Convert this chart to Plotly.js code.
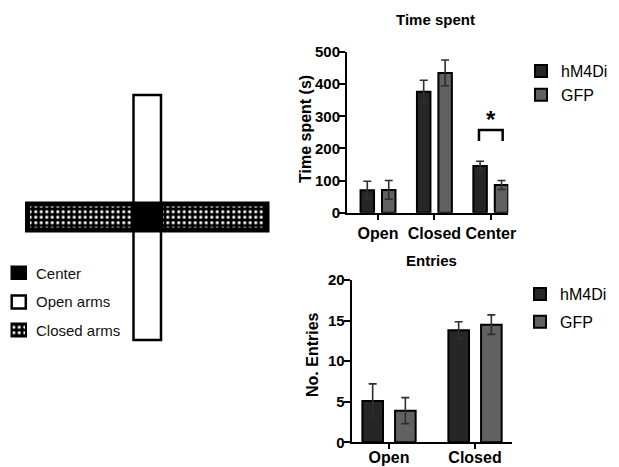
<!DOCTYPE html>
<html>
<head>
<meta charset="utf-8">
<script src="https://cdn.plot.ly/plotly-3.0.1.min.js"></script>
<style>html,body{margin:0;padding:0;background:#fff;}#chart{width:619px;height:467px;}</style>
</head>
<body>
<div id="chart"></div>
<script>
// ---- Data ----
const seriesNames = ['hM4Di', 'GFP'];
const timeCategories = ['Open', 'Closed', 'Center'];
const timeHM4Di = [70, 376, 145];
const timeHM4DiErr = [28, 36, 15];
const timeGFP = [71, 435, 86];
const timeGFPErr = [29, 40, 14];

const entryCategories = ['Open', 'Closed'];
const entriesHM4Di = [5.1, 13.8];
const entriesHM4DiErr = [2.1, 1.05];
const entriesGFP = [3.9, 14.5];
const entriesGFPErr = [1.6, 1.2];

const sigCategoryIndex = 2;      // Center
const sigLabel = '*';
const mazeLegendLabels = ['Center', 'Open arms', 'Closed arms'];
const chartTitles = ['Time spent', 'Entries'];
const yTitles = ['Time spent (s)', 'No. Entries'];

// ---- Styles ----
const FONT = 'Liberation Sans, Arial, sans-serif';
const colHM4Di = '#262626';
const colGFP = '#616161';
const errStyle = (arr) => ({type: 'data', array: arr, visible: true, color: '#2e2e2e', thickness: 1.6, width: 4});

function bar(x, y, err, name, color, xa, ya, legend) {
  return {
    type: 'bar', x: x, y: y, name: name, xaxis: xa, yaxis: ya,
    marker: {color: color, line: {color: '#000', width: 2}},
    error_y: errStyle(err), legend: legend, legendgroup: legend + name,
    hoverinfo: 'skip'
  };
}

const traces = [
  bar(timeCategories, timeHM4Di, timeHM4DiErr, seriesNames[0], colHM4Di, 'x', 'y', 'legend'),
  bar(timeCategories, timeGFP, timeGFPErr, seriesNames[1], colGFP, 'x', 'y', 'legend'),
  bar(entryCategories, entriesHM4Di, entriesHM4DiErr, seriesNames[0], colHM4Di, 'x2', 'y2', 'legend2'),
  bar(entryCategories, entriesGFP, entriesGFPErr, seriesNames[1], colGFP, 'x2', 'y2', 'legend2')
];

// ---- Maze diagram (decoration, pixel space on hidden axes x3/y3) ----
const checkerPattern = {shape: '.', bgcolor: '#000', fgcolor: '#fff', size: 5.5, solidity: 0.26};
traces.push({
  type: 'scatter', xaxis: 'x3', yaxis: 'y3', mode: 'none', fill: 'toself',
  x: [30, 131.5, 131.5, 30, 30, null, 163, 264.5, 264.5, 163, 163, null, 12.5, 25, 25, 12.5, 12.5],
  y: [206.5, 206.5, 227.5, 227.5, 206.5, null, 206.5, 206.5, 227.5, 227.5, 206.5, null, 324.5, 324.5, 335.5, 335.5, 324.5],
  fillcolor: '#000', fillpattern: checkerPattern, showlegend: false, hoverinfo: 'skip'
});

const pxShape = (o) => Object.assign({xref: 'x3', yref: 'y3', layer: 'below'}, o);
const shapes = [
  pxShape({type: 'rect', x0: 133.5, x1: 161, y0: 95, y1: 340, fillcolor: '#fff', line: {color: '#000', width: 2.5}}),
  pxShape({type: 'rect', x0: 25, x1: 269.5, y0: 201.5, y1: 232.5, fillcolor: '#000', line: {width: 0}}),
  pxShape({type: 'rect', x0: 10.5, x1: 27, y0: 265.5, y1: 280, fillcolor: '#000', line: {width: 0}}),
  pxShape({type: 'rect', x0: 11.7, x1: 25.8, y0: 295.5, y1: 308.5, fillcolor: '#fff', line: {color: '#000', width: 2.5}}),
  pxShape({type: 'rect', x0: 10.5, x1: 27, y0: 322.5, y1: 337.5, fillcolor: '#000', line: {width: 0}}),
  // significance bracket
  {type: 'path', xref: 'x', yref: 'y', layer: 'above',
   path: `M ${sigCategoryIndex - 0.21} 223 L ${sigCategoryIndex - 0.21} 257 L ${sigCategoryIndex + 0.21} 257 L ${sigCategoryIndex + 0.21} 223`,
   line: {color: '#000', width: 2.5}}
];

const boldFont = (s) => ({family: FONT, size: s, weight: 700, color: '#000'});
const annotations = [
  {text: chartTitles[0], xref: 'paper', yref: 'paper', x: 435 / 619, y: 1 - 20 / 467, showarrow: false,
   xanchor: 'center', yanchor: 'middle', font: boldFont(15)},
  {text: chartTitles[1], xref: 'paper', yref: 'paper', x: 431.7 / 619, y: 1 - 260 / 467, showarrow: false,
   xanchor: 'center', yanchor: 'middle', font: boldFont(15)},
  {text: yTitles[0], xref: 'paper', yref: 'paper', x: 305.5 / 619, y: 1 - 129.5 / 467, showarrow: false,
   textangle: -90, xanchor: 'center', yanchor: 'middle', font: boldFont(16)},
  {text: yTitles[1], xref: 'paper', yref: 'paper', x: 312 / 619, y: 1 - 355 / 467, showarrow: false,
   textangle: -90, xanchor: 'center', yanchor: 'middle', font: boldFont(16)},
  {text: sigLabel, xref: 'x', yref: 'y', x: timeCategories[sigCategoryIndex], y: 290, showarrow: false,
   xanchor: 'center', yanchor: 'middle', font: boldFont(24)}
];
const mazeLegendY = [273, 301.5, 330];
mazeLegendLabels.forEach((t, i) => annotations.push({
  text: t, xref: 'x3', yref: 'y3', x: 34, y: mazeLegendY[i], showarrow: false,
  xanchor: 'left', yanchor: 'middle', font: {family: FONT, size: 15, color: '#111'}
}));

const xBase = {type: 'category', showline: true, linewidth: 2, linecolor: '#000', ticks: 'outside',
  ticklen: 5, tickwidth: 2, tickcolor: '#000', tickfont: boldFont(16), showgrid: false, zeroline: false, fixedrange: true};
const yBase = {showline: true, linewidth: 2, linecolor: '#000', ticks: 'outside', ticklen: 6, tickwidth: 2,
  tickcolor: '#000', tickfont: boldFont(15), ticklabelstandoff: -4, showgrid: false, zeroline: false, fixedrange: true};

const legendBase = {font: {family: FONT, size: 16, color: '#000'}, bgcolor: 'rgba(0,0,0,0)',
  xanchor: 'left', yanchor: 'top', traceorder: 'grouped', itemclick: false, itemdoubleclick: false};

const layout = {
  width: 619, height: 467,
  margin: {l: 0, r: 0, t: 0, b: 0},
  paper_bgcolor: '#fff', plot_bgcolor: 'rgba(0,0,0,0)',
  barmode: 'group', bargap: 0.24, bargroupgap: 0.37,
  showlegend: true,
  xaxis: Object.assign({}, xBase, {domain: [347 / 619, 508.3 / 619], range: [-0.55, 2.31], anchor: 'y'}),
  yaxis: Object.assign({}, yBase, {domain: [1 - 212.7 / 467, 1 - 52 / 467], range: [0, 500], dtick: 100, anchor: 'x'}),
  xaxis2: Object.assign({}, xBase, {domain: [351.7 / 619, 512 / 619], range: [-0.434, 1.43], anchor: 'y2',
    ticklabelstandoff: -6}),
  yaxis2: Object.assign({}, yBase, {domain: [1 - 442.3 / 467, 1 - 280 / 467], range: [0, 20], dtick: 5, anchor: 'x2'}),
  xaxis3: {domain: [0, 300 / 619], range: [0, 300], visible: false, fixedrange: true, anchor: 'y3'},
  yaxis3: {domain: [0, 1], range: [467, 0], visible: false, fixedrange: true, anchor: 'x3'},
  legend: Object.assign({}, legendBase, {x: 521 / 619, y: 1 - 54 / 467, tracegroupgap: 0}),
  legend2: Object.assign({}, legendBase, {x: 520 / 619, y: 1 - 277 / 467, tracegroupgap: 4}),
  shapes: shapes,
  annotations: annotations
};

Plotly.newPlot('chart', traces, layout, {displayModeBar: false, staticPlot: true});
</script>
</body>
</html>
